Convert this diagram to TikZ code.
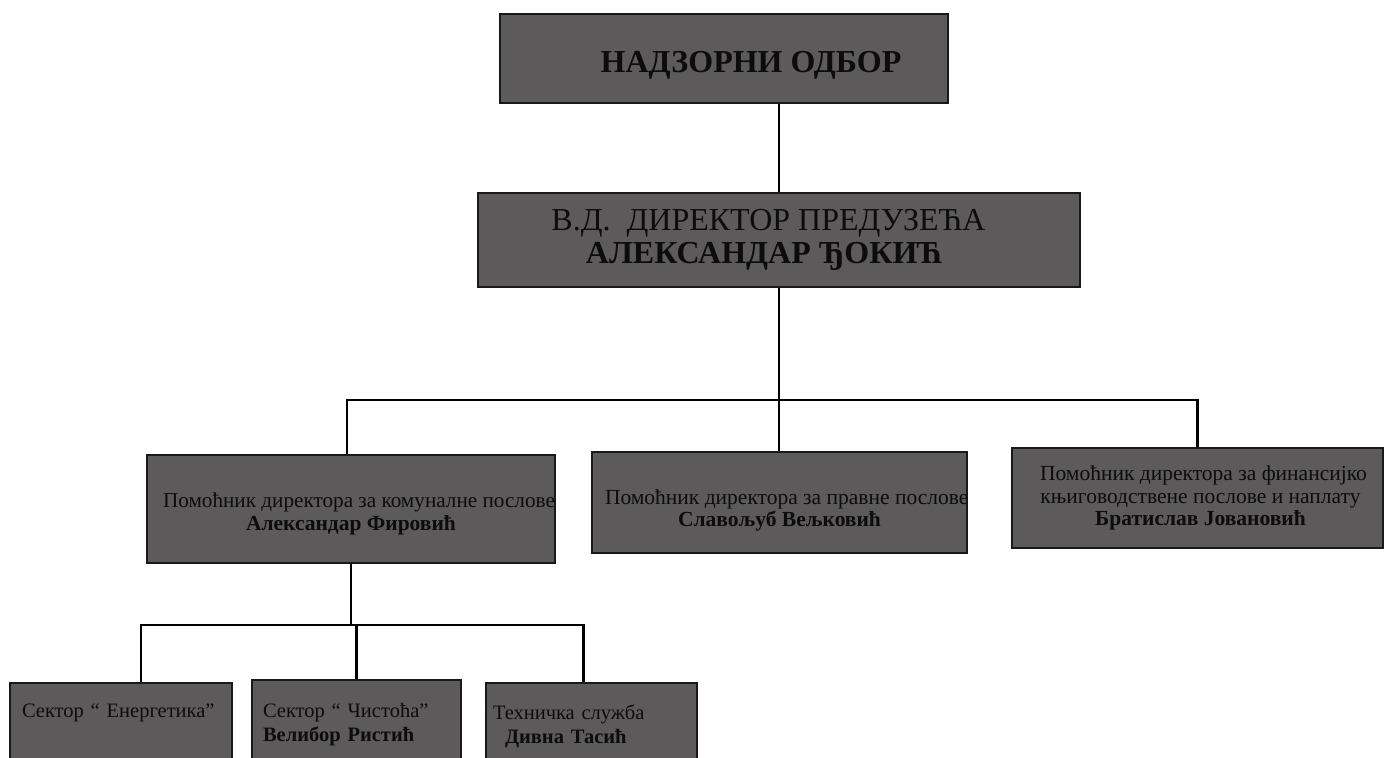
\documentclass[tikz,border=0pt]{standalone}
\usepackage{fontspec}
\setmainfont{Liberation Serif}
\definecolor{boxgray}{RGB}{92,90,90}
\definecolor{txt}{RGB}{12,12,14}
\tikzset{
  orgbox/.style={draw=black!90, line width=1.6pt, fill=boxgray, inner sep=0pt, text=txt, align=center},
  midbox/.style={orgbox, font=\fontsize{21.5}{22.5}\selectfont},
  lowbox/.style={orgbox, align=left, font=\fontsize{20.5}{24}\selectfont},
  conn/.style={line width=2.6pt, black}
}
\begin{document}
\begin{tikzpicture}[x=1pt,y=-1pt]
\useasboundingbox (0,0) rectangle (1385,758);
\begin{scope}
\clip (0,0) rectangle (1385,758);
\node[orgbox, minimum width=448pt, minimum height=89pt, font=\fontsize{32}{34}\selectfont\bfseries] (top) at (724,58.5) {\rule{0pt}{35pt}\hspace*{54pt}НАДЗОРНИ ОДБОР};
\node[orgbox, minimum width=602pt, minimum height=94pt, font=\fontsize{32}{33}\selectfont] (dir) at (779,240) {В.Д.~ ДИРЕКТОР ПРЕДУЗЕЋА\hspace*{21pt}\\\textbf{АЛЕКСАНДАР ЂОКИЋ}\hspace*{29pt}};
\node[midbox, minimum width=408pt, minimum height=108pt] (p1) at (351,509) {\rule{0pt}{25pt}\makebox[376pt][l]{\fontsize{21.2}{22.5}\selectfont Помоћник директора за комуналне послове}\\\textbf{Александар Фировић}};
\node[midbox, minimum width=375pt, minimum height=101pt] (p2) at (779.5,502.5) {\rule{0pt}{31pt}\makebox[349pt][l]{Помоћник директора за правне послове}\\\textbf{Славољуб Вељковић}};
\node[midbox, minimum width=371pt, minimum height=100pt] (p3) at (1197.5,498) {\hspace*{12pt}Помоћник директора за финансијко\\\hspace*{6pt}књиговодствене послове и наплату\\\hspace*{6pt}\textbf{Братислав Јовановић}};
\node[lowbox, minimum width=222pt, minimum height=87pt, text width=198pt] (s1) at (121,726.5) {Сектор “ Енергетика”\rule[-31pt]{0pt}{31pt}};
\node[lowbox, minimum width=209pt, minimum height=90pt, text width=187pt] (s2) at (356.5,725) {Сектор “ Чистоћа”\\\textbf{Велибор Ристић}};
\node[lowbox, minimum width=211pt, minimum height=87pt, text width=197pt] (s3) at (591.5,726.5) {Техничка служба\\\hspace*{12pt}\textbf{Дивна Тасић}};
\end{scope}
\coordinate (b1) at (779,400);
\coordinate (b2) at (352,625);
\draw[conn] (dir.north |- top.south) -- (dir.north);
\draw[conn] (dir.south) -- (dir.south |- p2.north);
\draw[conn] ([xshift=-4pt]p1.north) |- (b1) -| (p3.north);
\draw[conn] (p1.south) -- (p1.south |- b2);
\draw[conn] ([xshift=20pt]s1.north) |- (b2) -| ([xshift=-8pt]s3.north);
\draw[conn] (s2.north) -- (s2.north |- b2);
\end{tikzpicture}
\end{document}
